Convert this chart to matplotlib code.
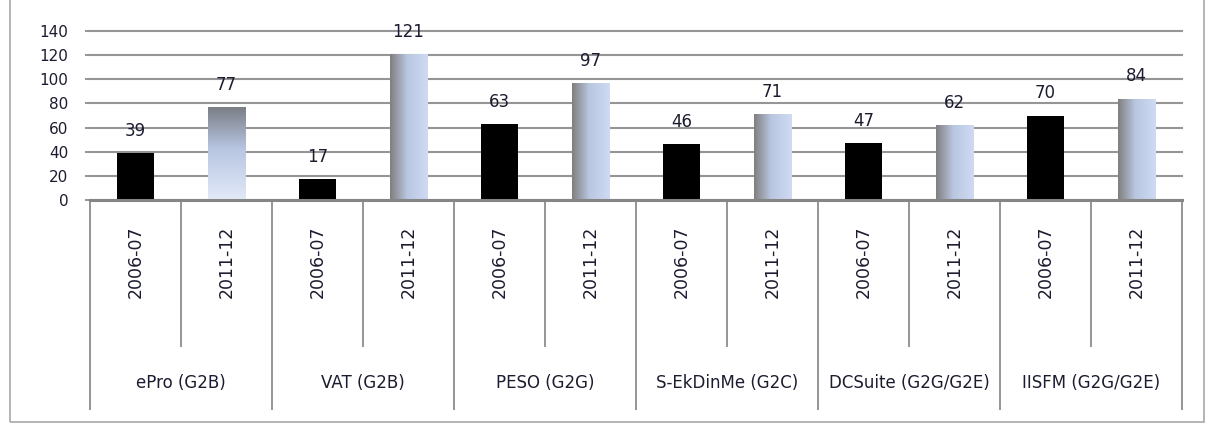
import numpy as np
import matplotlib.pyplot as plt
import matplotlib.transforms as mtransforms
from matplotlib.colors import to_rgb
from matplotlib.patches import Rectangle

# e-governance systems and their usage in the two periods
systems = ["ePro (G2B)", "VAT (G2B)", "PESO (G2G)", "S-EkDinMe (G2C)",
           "DCSuite (G2G/G2E)", "IISFM (G2G/G2E)"]
periods = ["2006-07", "2011-12"]
values_0607 = [39, 17, 63, 46, 47, 70]
values_1112 = [77, 121, 97, 71, 62, 84]

TEXT = "#1c1c30"
GRID = "#959595"


def shade_bar(ax, bar, stops, vertical=False):
    """Fill a bar with a linear gradient given as (position, colour) stops."""
    pos = [p for p, _ in stops]
    cols = np.array([to_rgb(c) for _, c in stops])
    t = np.linspace(0, 1, 128)
    ramp = np.stack([np.interp(t, pos, cols[:, k]) for k in range(3)], axis=-1)
    img = ramp[:, None, :] if vertical else ramp[None, :, :]
    x0, w, h = bar.get_x(), bar.get_width(), bar.get_height()
    im = ax.imshow(img, extent=[x0, x0 + w, 0, h], origin="lower",
                   aspect="auto", interpolation="bilinear", zorder=3)
    im.set_clip_path(bar)


fig = plt.figure(figsize=(12.09, 4.24), dpi=100)
ax = fig.add_axes([90 / 1209, 224 / 424, 1092 / 1209, 169 / 424])

# chart frame
fig.patches.append(Rectangle((10 / 1209, 2 / 424), 1194 / 1209, 1.1,
                             transform=fig.transFigure, fill=False,
                             edgecolor="#a8a8a8", lw=1.2, clip_on=False))

width = 0.41
for i, sys_name in enumerate(systems):
    xa, xb = 2 * i + 0.5, 2 * i + 1.5
    ax.bar(xa, values_0607[i], width, color="black", zorder=3)
    b = ax.bar(xb, values_1112[i], width, color="none", edgecolor="none",
               zorder=3)[0]
    if i == 0:
        shade_bar(ax, b, [(0, "#e2e9f8"), (0.55, "#b8c6e2"), (1, "#7b7e86")],
                  vertical=True)
    else:
        shade_bar(ax, b, [(0, "#7f7f7f"), (0.45, "#b9c6e0"), (1, "#cfdbf3")])
    for x, v in ((xa, values_0607[i]), (xb, values_1112[i])):
        ax.annotate(str(v), (x, v), xytext=(0, 16), textcoords="offset points",
                    ha="center", va="center", fontsize=12, color=TEXT)

ax.set_xlim(0, 12)
ax.set_ylim(0, 140)
ax.set_yticks(range(0, 141, 20))
ax.tick_params(axis="y", length=3.6, width=1.4, color=GRID, pad=12,
               labelsize=11, labelcolor=TEXT)
ax.yaxis.grid(True, color=GRID, lw=1.5)
for gl in ax.get_ygridlines():
    gl.set_clip_on(False)
ax.set_axisbelow(True)

for s in ("left", "top", "right"):
    ax.spines[s].set_visible(False)
ax.spines["bottom"].set_color("#858585")
ax.spines["bottom"].set_linewidth(2.2)
ax.spines["bottom"].set_zorder(4)

# category separators below the axis: short between periods, long between systems
ax.set_xticks(range(0, 13, 2))
ax.set_xticks(range(1, 12, 2), minor=True)
ax.tick_params(axis="x", which="major", length=151, width=1.4, color=GRID,
               labelbottom=False)
ax.tick_params(axis="x", which="minor", length=106, width=1.4, color=GRID,
               labelbottom=False)

trans = mtransforms.blended_transform_factory(ax.transData, ax.transAxes)
for i, sys_name in enumerate(systems):
    for j, p in enumerate(periods):
        ax.text(2 * i + j + 0.5, -0.367, p, transform=trans, rotation=90,
                ha="center", va="center", fontsize=12.5, color=TEXT)
    ax.text(2 * i + 1, -1.083, sys_name, transform=trans, ha="center",
            va="center", fontsize=12, color=TEXT)

fig.savefig("out.png", dpi=100, facecolor="white")
